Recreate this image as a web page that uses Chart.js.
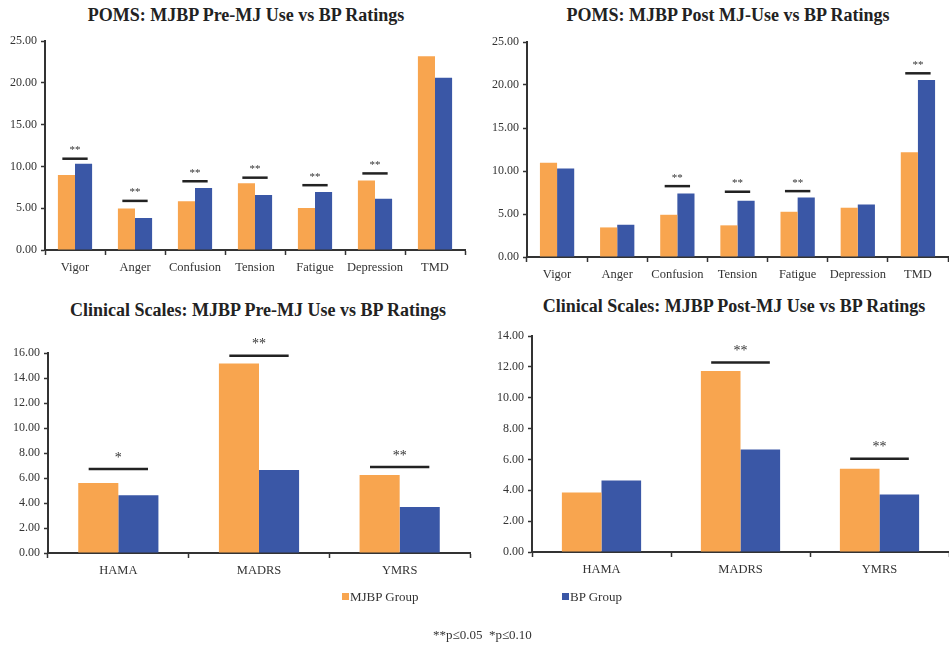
<!DOCTYPE html>
<html lang="en">
<head>
<meta charset="UTF-8">
<title>POMS and Clinical Scales: MJBP vs BP</title>
<script src="https://cdn.jsdelivr.net/npm/chart.js@4.4.1/dist/chart.umd.min.js"></script>
<style>
    body {
        margin: 0;
        background: #ffffff;
        font-family: "Liberation Serif", "Times New Roman", serif;
        color: #222;
    }
    .page {
        position: relative;
        width: 949px;
        height: 645px;
        overflow: hidden;
    }
    .panel {
        position: absolute;
    }
    .title {
        position: absolute;
        transform: translateX(-50%);
        white-space: nowrap;
        font-weight: bold;
        font-size: 18px;
        color: #222;
    }
    .legend-item {
        position: absolute;
        font-size: 13px;
        color: #333;
        white-space: nowrap;
    }
    .swatch {
        display: inline-block;
        width: 7px;
        height: 7px;
        margin-right: 1px;
        vertical-align: 1px;
    }
    .note {
        position: absolute;
        left: 433px;
        top: 627px;
        font-size: 13px;
        color: #333;
        white-space: nowrap;
    }
</style>
</head>
<body>
<div class="page">
    <div class="title" style="left:246px; top:5px;">POMS: MJBP Pre-MJ Use vs BP Ratings</div>
    <div class="title" style="left:728px; top:5px;">POMS: MJBP Post MJ-Use vs BP Ratings</div>
    <div class="title" style="left:258px; top:300px;">Clinical Scales: MJBP Pre-MJ Use vs BP Ratings</div>
    <div class="title" style="left:734px; top:296px;">Clinical Scales: MJBP Post-MJ Use vs BP Ratings</div>

    <div class="panel" style="left:0px; top:30px; width:470px; height:260px;"><canvas id="pomsPre"></canvas></div>
    <div class="panel" style="left:470px; top:30px; width:479px; height:267px;"><canvas id="pomsPost"></canvas></div>
    <div class="panel" style="left:0px; top:325px; width:475px; height:268px;"><canvas id="clinPre"></canvas></div>
    <div class="panel" style="left:470px; top:316px; width:479px; height:276px;"><canvas id="clinPost"></canvas></div>

    <div class="legend-item" style="left:342px; top:589px;"><span class="swatch" style="background:#F8A54F"></span>MJBP Group</div>
    <div class="legend-item" style="left:562px; top:589px;"><span class="swatch" style="background:#3A57A6"></span>BP Group</div>
    <div class="note">**p&le;0.05&nbsp;&nbsp;*p&le;0.10</div>
</div>

<script>
    // categories
    const pomsLabels = ['Vigor', 'Anger', 'Confusion', 'Tension', 'Fatigue', 'Depression', 'TMD'];
    const clinicalLabels = ['HAMA', 'MADRS', 'YMRS'];

    // POMS pre-MJ
    const pomsPreMJBP = [8.97, 4.98, 5.84, 7.99, 5.02, 8.31, 23.20];
    const pomsPreBP = [10.34, 3.84, 7.41, 6.58, 6.94, 6.15, 20.61];
    const pomsPreSig = [10.93, 5.88, 8.23, 8.66, 7.76, 9.17, null];
    const pomsPreStars = ['**', '**', '**', '**', '**', '**', ''];

    // POMS post-MJ
    const pomsPostMJBP = [10.95, 3.44, 4.91, 3.68, 5.26, 5.73, 12.19];
    const pomsPostBP = [10.29, 3.75, 7.39, 6.54, 6.93, 6.11, 20.59];
    const pomsPostSig = [null, null, 8.24, 7.59, 7.66, null, 21.36];
    const pomsPostStars = ['', '', '**', '**', '**', '', '**'];

    // Clinical scales pre-MJ
    const clinPreMJBP = [5.61, 15.17, 6.25];
    const clinPreBP = [4.62, 6.65, 3.69];
    const clinPreSig = [6.73, 15.79, 6.89];
    const clinPreStars = ['*', '**', '**'];

    // Clinical scales post-MJ
    const clinPostMJBP = [3.85, 11.73, 5.39];
    const clinPostBP = [4.63, 6.64, 3.72];
    const clinPostSig = [null, 12.29, 6.04];
    const clinPostStars = ['', '**', '**'];

    const orange = '#F8A54F';
    const blue = '#3A57A6';
    const axisColor = '#333333';
    const serif = "'Liberation Serif', serif";

    Chart.defaults.font.family = serif;

    // draws the significance bars and stars above each pair of bars
    const sigPlugin = {
        id: 'sigBars',
        afterDatasetsDraw(chart, args, opts) {
            const ctx = chart.ctx;
            const y = chart.scales.y;
            const a = chart.getDatasetMeta(0).data;
            const b = chart.getDatasetMeta(1).data;
            ctx.save();
            opts.levels.forEach((lvl, i) => {
                if (lvl === null) return;
                const left = a[i].x - a[i].width / 2;
                const right = b[i].x + b[i].width / 2;
                const mid = (left + right) / 2;
                const half = (right - left) * 0.37;
                const py = y.getPixelForValue(lvl);
                ctx.strokeStyle = '#222';
                ctx.lineWidth = 2.5;
                ctx.beginPath();
                ctx.moveTo(mid - half, py);
                ctx.lineTo(mid + half, py);
                ctx.stroke();
                ctx.fillStyle = '#333';
                ctx.font = opts.starSize + 'px ' + serif;
                ctx.textAlign = 'center';
                ctx.textBaseline = 'bottom';
                ctx.fillText(opts.stars[i], mid, py - opts.gap);
            });
            ctx.restore();
        }
    };

    function makeChart(id, labels, mjbp, bp, sig, stars, yMax, yStep, yWidth, pad, starSize, gap) {
        new Chart(document.getElementById(id), {
            type: 'bar',
            data: {
                labels: labels,
                datasets: [{
                    label: 'MJBP Group',
                    data: mjbp,
                    backgroundColor: orange,
                    borderWidth: 0
                }, {
                    label: 'BP Group',
                    data: bp,
                    backgroundColor: blue,
                    borderWidth: 0
                }]
            },
            options: {
                responsive: true,
                maintainAspectRatio: false,
                animation: false,
                categoryPercentage: 0.57,
                barPercentage: 1.0,
                layout: { padding: pad },
                plugins: {
                    legend: { display: false },
                    tooltip: { enabled: false },
                    sigBars: { levels: sig, stars: stars, starSize: starSize, gap: gap }
                },
                scales: {
                    x: {
                        grid: {
                            drawOnChartArea: false,
                            drawTicks: true,
                            tickLength: 5,
                            tickColor: axisColor,
                            tickWidth: 1.5
                        },
                        border: { display: true, color: axisColor, width: 2 },
                        ticks: {
                            color: '#333',
                            font: { family: serif, size: 12.5 },
                            padding: 5,
                            autoSkip: false,
                            maxRotation: 0
                        },
                        afterFit: (s) => { s.height = 40; }
                    },
                    y: {
                        min: 0,
                        max: yMax,
                        grid: {
                            drawOnChartArea: false,
                            drawTicks: true,
                            tickLength: 4,
                            tickColor: axisColor,
                            tickWidth: 1.5
                        },
                        border: { display: true, color: axisColor, width: 2 },
                        ticks: {
                            stepSize: yStep,
                            color: '#333',
                            font: { family: serif, size: 12 },
                            padding: 4,
                            callback: (v) => Number(v).toFixed(2)
                        },
                        afterFit: (s) => { s.width = yWidth; }
                    }
                }
            },
            plugins: [sigPlugin]
        });
    }

    function drawAll() {
        makeChart('pomsPre', pomsLabels, pomsPreMJBP, pomsPreBP, pomsPreSig, pomsPreStars,
            25, 5, 45, { top: 8, right: 5, bottom: 0, left: 0 }, 11, 3);
        makeChart('pomsPost', pomsLabels, pomsPostMJBP, pomsPostBP, pomsPostSig, pomsPostStars,
            25, 5, 57, { top: 12, right: 1, bottom: 0, left: 0 }, 11, 3);
        makeChart('clinPre', clinicalLabels, clinPreMJBP, clinPreBP, clinPreSig, clinPreStars,
            16, 2, 48, { top: 28, right: 5, bottom: 0, left: 0 }, 14, 4);
        makeChart('clinPost', clinicalLabels, clinPostMJBP, clinPostBP, clinPostSig, clinPostStars,
            14, 2, 62, { top: 20, right: 0, bottom: 0, left: 0 }, 14, 4);
    }

    // make sure the serif face is ready before the canvases use it
    document.fonts.load("12px 'Liberation Serif'").then(drawAll, drawAll);
</script>
</body>
</html>
